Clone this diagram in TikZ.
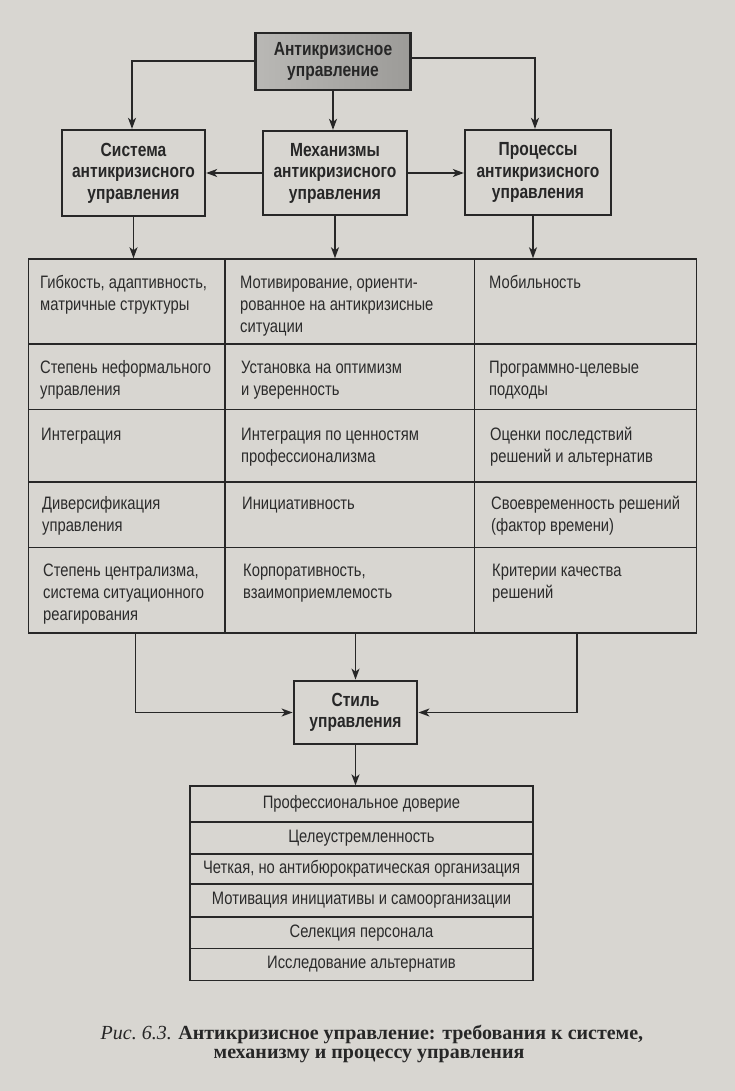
\documentclass[tikz,border=0pt]{standalone}
\usepackage{fontspec}
\setmainfont{Liberation Sans}[FakeStretch=0.82]
\newfontfamily\capfont{Liberation Serif}
\usetikzlibrary{arrows.meta}
\definecolor{paper}{HTML}{D8D6D1}
\definecolor{ink}{HTML}{272727}
\definecolor{txt}{HTML}{2B2B2B}
\definecolor{grayL}{HTML}{B9B8B5}
\definecolor{grayR}{HTML}{9C9B98}
\newcommand{\firstln}{\rule{0pt}{14pt}}
\begin{document}
\begin{tikzpicture}[x=1pt,y=-1pt,
  hbox/.style={draw=ink, line width=2.3pt, fill=paper, text=ink, align=center, inner sep=0pt,
    font=\fontsize{19}{21.5}\selectfont\bfseries},
  conn/.style={draw=ink, line width=1.4pt},
  arr/.style={conn, -{Stealth[length=11pt,width=8pt,inset=3pt]}},
  tgrid/.style={draw=ink, line width=1.5pt},
  tcell/.style={anchor=north west, inner sep=0pt, align=left, text=txt,
    font=\fontsize{18}{22}\selectfont},
  listitem/.style={draw=ink, line width=1.3pt, minimum width=343pt, inner sep=0pt, text=txt,
    text height=12.5pt, text depth=4pt, font=\fontsize{18}{22}\selectfont},
  captext/.style={inner sep=0pt, text=ink, font=\capfont\fontsize{20}{22}\selectfont}
]
\fill[paper] (0,0) rectangle (735,1091);
\useasboundingbox (0,0) rectangle (735,1091);

% top row of boxes
\node[hbox, line width=2.8pt, left color=grayL, right color=grayR, minimum width=155pt, minimum height=57pt]
  (top) at (333,61.5) {Антикризисное\\управление};
\node[hbox, minimum width=143pt, minimum height=86pt] (sys) at (133.5,173) {Система\\антикризисного\\управления};
\node[hbox, minimum width=144pt, minimum height=84pt] (mech) at (335,173) {Механизмы\\антикризисного\\управления};
\node[hbox, minimum width=146pt, minimum height=85pt] (proc) at (538,172.5) {Процессы\\антикризисного\\управления};

% table frame
\node[tgrid, minimum width=668pt, minimum height=374pt, inner sep=0pt] (tbl) at (362.5,446) {};
\draw[tgrid] (28.5,344) -- (696.5,344);
\draw[tgrid] (28.5,409.5) -- (696.5,409.5);
\draw[tgrid] (28.5,482) -- (696.5,482);
\draw[tgrid] (28.5,547.5) -- (696.5,547.5);
\draw[tgrid] (225,259) -- (225,633);
\draw[tgrid] (474.5,259) -- (474.5,633);

% table cells
\node[tcell] (c11) at (40,274.5) {\firstln Гибкость, адаптивность,\\матричные структуры};
\node[tcell] (c12) at (240,274.5) {\firstln Мотивирование, ориенти-\\рованное на антикризисные\\ситуации};
\node[tcell] (c13) at (489,274.5) {\firstln Мобильность};
\node[tcell] (c21) at (40,359.5) {\firstln Степень неформального\\управления};
\node[tcell] (c22) at (241,359.5) {\firstln Установка на оптимизм\\и уверенность};
\node[tcell] (c23) at (489,359.5) {\firstln Программно-целевые\\подходы};
\node[tcell] (c31) at (41,426) {\firstln Интеграция};
\node[tcell] (c32) at (241,426) {\firstln Интеграция по ценностям\\профессионализма};
\node[tcell] (c33) at (490,426) {\firstln Оценки последствий\\решений и альтернатив};
\node[tcell] (c41) at (42,495) {\firstln Диверсификация\\управления};
\node[tcell] (c42) at (242,495) {\firstln Инициативность};
\node[tcell] (c43) at (491,495) {\firstln Своевременность решений\\(фактор времени)};
\node[tcell] (c51) at (43,562.5) {\firstln Степень централизма,\\система ситуационного\\реагирования};
\node[tcell] (c52) at (243,562.5) {\firstln Корпоративность,\\взаимоприемлемость};
\node[tcell] (c53) at (492,562.5) {\firstln Критерии качества\\решений};

% style box
\node[hbox, line width=2.8pt, minimum width=123pt, minimum height=63pt] (style) at (355.5,712.5) {Стиль\\управления};

% list
\node[listitem, minimum height=36pt] (l1) at (361.5,804) {Профессиональное доверие};
\node[listitem, minimum height=32pt] (l2) at (361.5,838) {Целеустремленность};
\node[listitem, minimum height=30pt] (l3) at (361.5,869) {Четкая, но антибюрократическая организация};
\node[listitem, minimum height=33pt] (l4) at (361.5,900.5) {Мотивация инициативы и самоорганизации};
\node[listitem, minimum height=31.5pt] (l5) at (361.5,932.75) {Селекция персонала};
\node[listitem, minimum height=32pt] (l6) at (361.5,964.5) {Исследование альтернатив};

% connectors
\draw[arr] ([yshift=0.5pt]top.west) -| ([xshift=-1.5pt]sys.north);
\draw[arr] ([yshift=3.5pt]top.east) -| ([xshift=-3pt]proc.north);
\draw[arr] (top.south) -- (top.south |- mech.north);
\draw[arr] (mech.west) -- (sys.east);
\draw[arr] (mech.east) -- (mech.east -| proc.west);
\draw[arr] (sys.south) -- (sys.south |- tbl.north);
\draw[arr] (mech.south) -- (mech.south |- tbl.north);
\draw[arr] ([xshift=-5pt]proc.south) -- ([xshift=-5pt]proc.south |- tbl.north);
\coordinate (lb) at (135.5,633);
\coordinate (rb) at (577,633);
\draw[arr] (lb) |- (style.west);
\draw[arr] (rb) |- (style.east);
\draw[arr] (style.north |- tbl.south) -- (style.north);
\draw[arr] (style.south) -- (style.south |- l1.north);

% caption
\node[captext] (cap1) at (372,1034) {\itshape Рис.~6.3. \bfseries\upshape Антикризисное управление: требования к системе,};
\node[captext] (cap2) at (369,1056) {\bfseries механизму и процессу управления};
\end{tikzpicture}
\end{document}
